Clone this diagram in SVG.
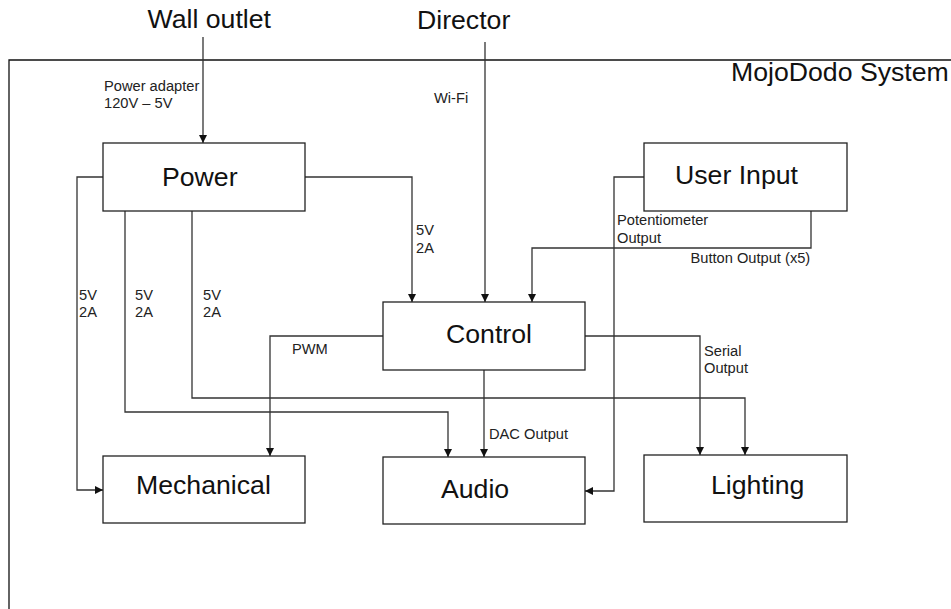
<svg xmlns="http://www.w3.org/2000/svg" width="951" height="609" viewBox="0 0 951 609">
<style>
.box{fill:#fff;stroke:#222;stroke-width:1.3}
.big{font-family:"Liberation Sans",Arial,sans-serif;font-size:26.67px;fill:#111}
.sm{font-family:"Liberation Sans",Arial,sans-serif;font-size:14.67px;fill:#222}
.c{fill:none;stroke:#333;stroke-width:1.3}
</style>
<defs>
<marker id="ah" viewBox="0 0 10 10" refX="10" refY="5" markerWidth="8" markerHeight="8" markerUnits="userSpaceOnUse" orient="auto">
<path d="M0,0 L10,5 L0,10 z" fill="#111"/>
</marker>
</defs>
<rect width="951" height="609" fill="#fff"/>
<g id="system">
<path d="M9,609 L9,60 L951,60" fill="none" stroke="#111" stroke-width="1.3"/>
<text class="big" x="731" y="81">MojoDodo System</text>
</g>
<g id="wall-outlet"><text class="big" x="147.5" y="28">Wall outlet</text></g>
<g id="director"><text class="big" x="417" y="29">Director</text></g>
<g id="connectors">
<path class="c" marker-end="url(#ah)" d="M203,37 L203,143"/>
<path class="c" marker-end="url(#ah)" d="M485,42 L485,302"/>
<path class="c" marker-end="url(#ah)" d="M305,177 L412,177 L412,302"/>
<path class="c" marker-end="url(#ah)" d="M103,177 L77,177 L77,490 L103,490"/>
<path class="c" marker-end="url(#ah)" d="M125,211 L125,412 L448,412 L448,457"/>
<path class="c" marker-end="url(#ah)" d="M192,211 L192,398 L745,398 L745,455"/>
<path class="c" marker-end="url(#ah)" d="M383,336 L270,336 L270,456"/>
<path class="c" marker-end="url(#ah)" d="M585,336 L700,336 L700,455"/>
<path class="c" marker-end="url(#ah)" d="M484,370 L484,457"/>
<path class="c" marker-end="url(#ah)" d="M644,177 L614,177 L614,491 L585,491"/>
<path class="c" marker-end="url(#ah)" d="M811,211 L811,248 L532,248 L532,302"/>
<text class="sm" x="104" y="90.5">Power adapter</text>
<text class="sm" x="104" y="108">120V – 5V</text>
<text class="sm" x="434" y="103">Wi-Fi</text>
<text class="sm" x="416" y="235">5V</text>
<text class="sm" x="416" y="252.5">2A</text>
<text class="sm" x="79" y="299.5">5V</text>
<text class="sm" x="79" y="317">2A</text>
<text class="sm" x="135" y="299.5">5V</text>
<text class="sm" x="135" y="317">2A</text>
<text class="sm" x="203" y="299.5">5V</text>
<text class="sm" x="203" y="317">2A</text>
<text class="sm" x="292" y="354">PWM</text>
<text class="sm" x="704" y="355.5">Serial</text>
<text class="sm" x="704" y="373">Output</text>
<text class="sm" x="489" y="439">DAC Output</text>
<text class="sm" x="617" y="225">Potentiometer</text>
<text class="sm" x="617" y="242.5">Output</text>
<text class="sm" x="690.5" y="263">Button Output (x5)</text>
</g>
<g id="power">
<rect class="box" x="103" y="143" width="202" height="68"/>
<text class="big" x="162" y="186">Power</text>
</g>
<g id="user-input">
<rect class="box" x="644" y="143" width="203" height="68"/>
<text class="big" x="675" y="184">User Input</text>
</g>
<g id="control">
<rect class="box" x="383" y="302" width="202" height="68"/>
<text class="big" x="446" y="342.5">Control</text>
</g>
<g id="mechanical">
<rect class="box" x="103" y="456" width="202" height="67"/>
<text class="big" x="136" y="494">Mechanical</text>
</g>
<g id="audio">
<rect class="box" x="383" y="457" width="202" height="67"/>
<text class="big" x="441" y="498">Audio</text>
</g>
<g id="lighting">
<rect class="box" x="644" y="455" width="203" height="67"/>
<text class="big" x="711" y="494">Lighting</text>
</g>
</svg>
